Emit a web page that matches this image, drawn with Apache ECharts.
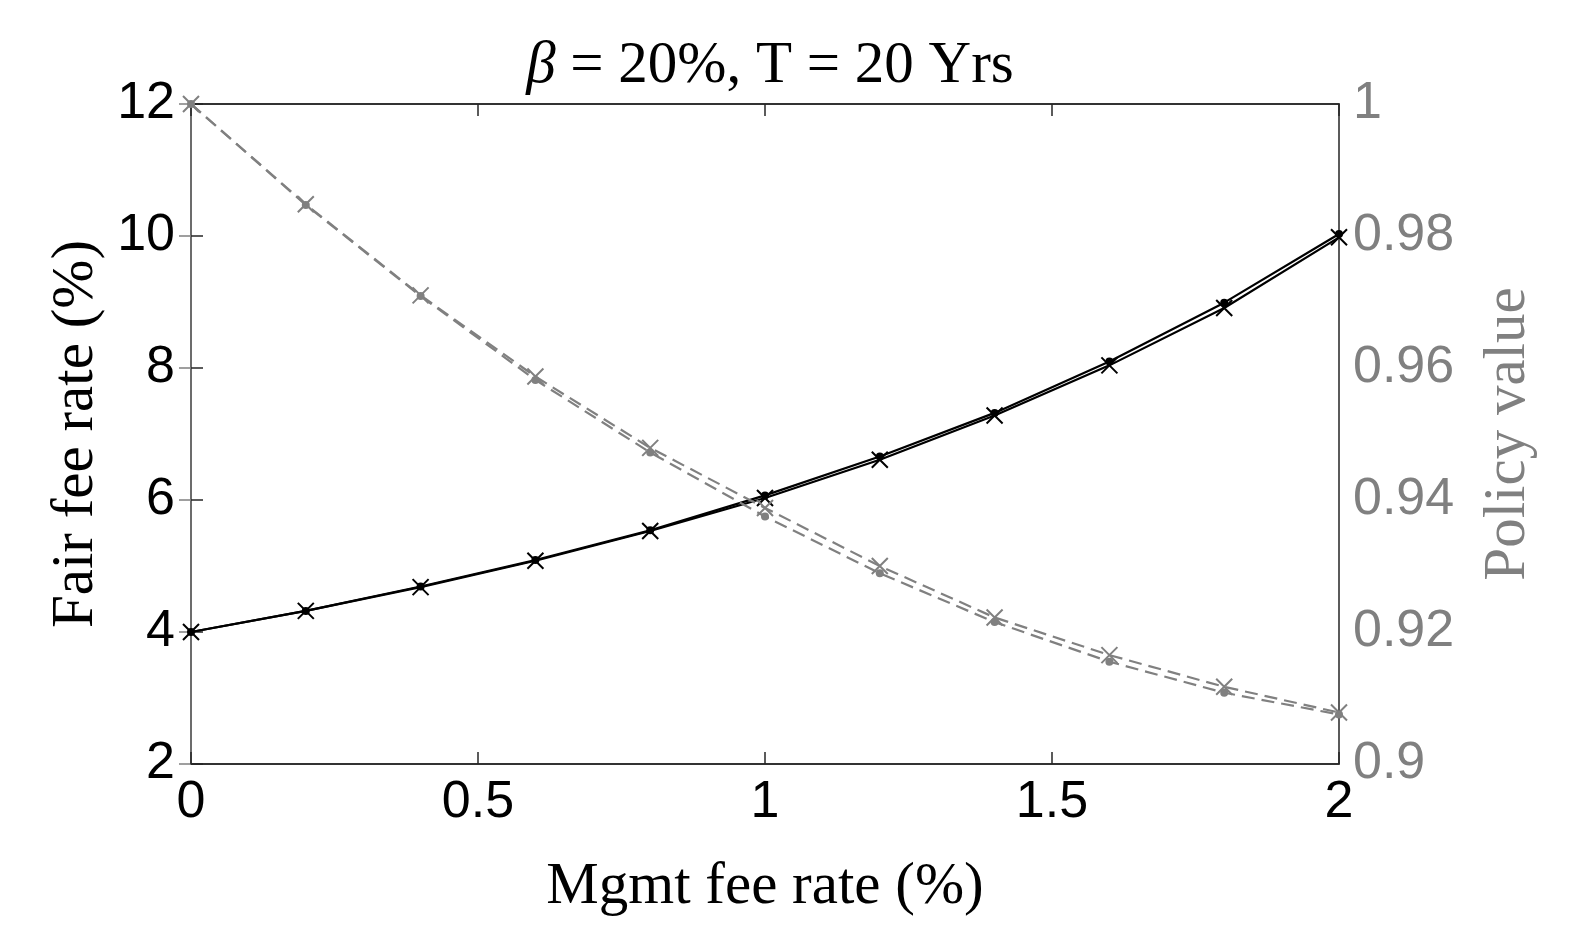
<!DOCTYPE html>
<html>
<head>
<meta charset="utf-8">
<script src="https://cdn.jsdelivr.net/npm/echarts@6/dist/echarts.min.js"></script>
<style>
  html, body { margin: 0; padding: 0; background: #fff; }
  #chart { width: 1594px; height: 946px; }
</style>
</head>
<body>
<div id="chart"></div>
<script>
// mgmt fee rate (%)
const mgmtFee = [0, 0.2, 0.4, 0.6, 0.8, 1.0, 1.2, 1.4, 1.6, 1.8, 2.0];
// fair fee rate (%), left axis
const fairFeeDot = [4.0, 4.32, 4.69, 5.09, 5.54, 6.07, 6.66, 7.32, 8.10, 8.99, 10.03];
const fairFeeCross = [4.0, 4.32, 4.68, 5.08, 5.53, 6.03, 6.61, 7.28, 8.04, 8.91, 9.98];
// policy value, right axis
const policyDot = [1.0, 0.9847, 0.9709, 0.9582, 0.9472, 0.9375, 0.9289, 0.9215, 0.9155, 0.9108, 0.9075];
const policyCross = [1.0, 0.9848, 0.9710, 0.9587, 0.9479, 0.9388, 0.9300, 0.9222, 0.9165, 0.9117, 0.9078];

const GRAY = '#808080';
const DARK = '#262626';
const CROSS = 'path://M0,0L10,10M10,0L0,10';

const pairs = (xs, ys) => xs.map((x, i) => [x, ys[i]]);

const chart = echarts.init(document.getElementById('chart'));

const tickFont = { fontFamily: 'Liberation Sans', fontSize: 52 };
const nameFont = { fontFamily: 'Liberation Serif', fontSize: 59 };

let option = {
    animation: false,
    title: {
        text: '{i|β} = 20%, T = 20 Yrs',
        left: 765,
        textAlign: 'center',
        top: 32,
        textStyle: {
            fontFamily: 'Liberation Serif',
            fontSize: 59,
            fontWeight: 'normal',
            color: '#000',
            rich: {
                i: { fontFamily: 'Liberation Serif', fontSize: 59, fontStyle: 'italic', color: '#000' }
            }
        }
    },
    grid: {
        left: 191, right: 255, top: 104, bottom: 182,
        show: true,
        borderColor: DARK,
        borderWidth: 1.5,
        backgroundColor: '#fff'
    },
    xAxis: [
        {
            type: 'value',
            min: 0, max: 2, interval: 0.5,
            name: 'Mgmt fee rate (%)',
            nameLocation: 'middle',
            nameGap: 94,
            nameTextStyle: Object.assign({ color: '#000' }, nameFont),
            axisLine: { show: true, lineStyle: { color: DARK, width: 1.5 } },
            axisTick: { inside: true, length: 12, lineStyle: { color: DARK, width: 1.5 } },
            axisLabel: Object.assign({ color: '#000', margin: 13 }, tickFont),
            splitLine: { show: false }
        },
        {
            type: 'value',
            position: 'top',
            min: 0, max: 2, interval: 0.5,
            axisLine: { show: true, lineStyle: { color: DARK, width: 1.5 } },
            axisTick: { inside: true, length: 12, lineStyle: { color: DARK, width: 1.5 } },
            axisLabel: { show: false },
            splitLine: { show: false }
        }
    ],
    yAxis: [
        {
            type: 'value',
            min: 2, max: 12, interval: 2,
            name: 'Fair fee rate (%)',
            nameLocation: 'middle',
            nameGap: 84,
            nameTextStyle: Object.assign({ color: '#000' }, nameFont),
            axisLine: { show: true, lineStyle: { color: DARK, width: 1.5 } },
            axisTick: { inside: true, length: 12, lineStyle: { color: DARK, width: 1.5 } },
            axisLabel: Object.assign({ color: '#000', margin: 16 }, tickFont),
            splitLine: { show: false }
        },
        {
            type: 'value',
            position: 'right',
            min: 0.9, max: 1, interval: 0.02,
            name: 'Policy value',
            nameLocation: 'middle',
            nameGap: 140,
            nameRotate: 90,
            nameTextStyle: Object.assign({ color: GRAY }, nameFont),
            axisLine: { show: true, lineStyle: { color: GRAY, width: 1.5 } },
            axisTick: { inside: true, length: 12, lineStyle: { color: GRAY, width: 1.5 } },
            axisLabel: Object.assign({ color: GRAY, margin: 14 }, tickFont),
            splitLine: { show: false }
        }
    ],
    series: [
        {
            name: 'Fair fee (dot)',
            type: 'line',
            yAxisIndex: 0,
            data: pairs(mgmtFee, fairFeeDot),
            clip: false,
            symbol: 'circle',
            symbolSize: 8,
            lineStyle: { color: '#000', width: 2.2 },
            itemStyle: { color: '#000' }
        },
        {
            name: 'Fair fee (cross)',
            type: 'line',
            yAxisIndex: 0,
            data: pairs(mgmtFee, fairFeeCross),
            clip: false,
            symbol: CROSS,
            symbolSize: 16,
            lineStyle: { color: '#000', width: 2.2 },
            itemStyle: { color: '#000', borderColor: '#000', borderWidth: 2 }
        },
        {
            name: 'Policy value (dot)',
            type: 'line',
            yAxisIndex: 1,
            data: pairs(mgmtFee, policyDot),
            clip: false,
            symbol: 'circle',
            symbolSize: 8,
            lineStyle: { color: GRAY, width: 2.2, type: [13, 7] },
            itemStyle: { color: GRAY }
        },
        {
            name: 'Policy value (cross)',
            type: 'line',
            yAxisIndex: 1,
            data: pairs(mgmtFee, policyCross),
            clip: false,
            symbol: CROSS,
            symbolSize: 16,
            lineStyle: { color: GRAY, width: 2.2, type: [13, 7] },
            itemStyle: { color: GRAY, borderColor: GRAY, borderWidth: 2 }
        }
    ]
};

chart.setOption(option);
</script>
</body>
</html>
